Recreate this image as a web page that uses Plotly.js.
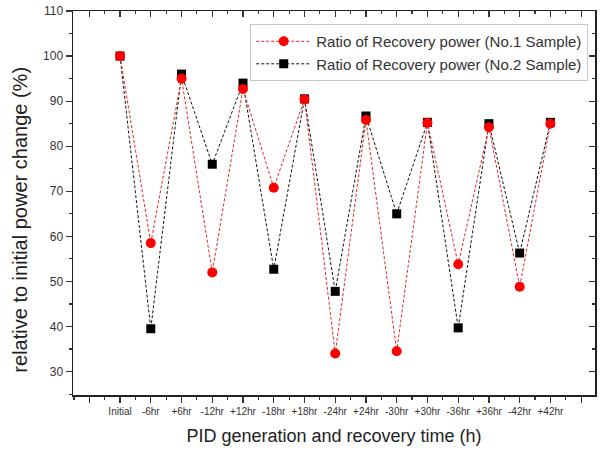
<!DOCTYPE html>
<html>
<head>
<meta charset="utf-8">
<script src="https://cdn.plot.ly/plotly-3.0.1.min.js"></script>
<style>
  html, body { margin: 0; padding: 0; background: #fff; }
  #chart { width: 604px; height: 455px; }
</style>
</head>
<body>
<div id="chart"></div>
<script>
// PID generation / recovery steps
const stages = ['Initial', '-6hr', '+6hr', '-12hr', '+12hr', '-18hr', '+18hr',
                '-24hr', '+24hr', '-30hr', '+30hr', '-36hr', '+36hr', '-42hr', '+42hr'];

// Ratio of recovered power relative to initial (%)
const sample1 = [100, 58.5, 95.0, 52.0, 92.7, 70.8, 90.4, 34.0, 85.8, 34.5, 85.2, 53.8, 84.2, 48.8, 85.0];
const sample2 = [100, 39.5, 96.0, 76.0, 94.0, 52.7, 90.5, 47.8, 86.7, 65.0, 85.3, 39.7, 85.0, 56.3, 85.3];

const xTitle = 'PID generation and recovery time (h)';
const yTitle = 'relative to initial power change (%)';

const xIdx = stages.map((_, i) => i);
const tickVals = [-1].concat(xIdx, [stages.length]);
const tickText = [''].concat(stages, ['']);

const FONT = 'Liberation Sans, Arial, sans-serif';

const traces = [
  {
    x: xIdx, y: sample2, name: 'Ratio of Recovery power (No.2 Sample)',
    type: 'scatter', mode: 'lines+markers', legendrank: 2,
    line: { color: '#111', width: 1, dash: '3px,2px' },
    marker: { symbol: 'square', size: 9, color: '#000' }
  },
  {
    x: xIdx, y: sample1, name: 'Ratio of Recovery power (No.1 Sample)',
    type: 'scatter', mode: 'lines+markers', legendrank: 1,
    line: { color: '#e8231f', width: 1, dash: '3px,2px' },
    marker: { symbol: 'circle', size: 10, color: '#ff0000' }
  },
  // empty helper trace carrying the inward-facing top / right tick frame
  { x: [0], y: [null], xaxis: 'x2', yaxis: 'y2', showlegend: false, hoverinfo: 'skip', mode: 'markers' }
];

const xRange = [-1.53, 15.45];
const yRange = [24.8, 110];

const layout = {
  width: 604, height: 455,
  margin: { l: 73, r: 9, t: 11, b: 60 },
  paper_bgcolor: '#fff', plot_bgcolor: '#fff',
  font: { family: FONT, color: '#333' },
  showlegend: true,
  legend: {
    x: 0.987, y: 0.966, xanchor: 'right', yanchor: 'top',
    bgcolor: '#fff', bordercolor: '#c8c8c8', borderwidth: 1,
    font: { family: FONT, size: 15, color: '#333' },
    itemwidth: 55, tracegroupgap: 0
  },
  xaxis: {
    range: xRange, tickmode: 'array', tickvals: tickVals, ticktext: tickText,
    showgrid: false, zeroline: false,
    showline: true, linecolor: '#222', linewidth: 1.5, mirror: true,
    ticks: 'outside', ticklen: 6, tickwidth: 1.2, tickcolor: '#333',
    minor: { tickmode: 'linear', tick0: 0.5, dtick: 1, ticks: 'outside', ticklen: 3, tickcolor: '#333', showgrid: false },
    tickfont: { family: FONT, size: 10, color: '#333' },
    title: { text: xTitle, font: { family: FONT, size: 18, color: '#222' }, standoff: 14 }
  },
  yaxis: {
    range: yRange, tickmode: 'linear', tick0: 30, dtick: 10,
    showgrid: false, zeroline: false,
    showline: true, linecolor: '#222', linewidth: 1.5, mirror: true,
    ticks: 'outside', ticklen: 6, tickwidth: 1.2, tickcolor: '#333',
    minor: { tickmode: 'linear', tick0: 25, dtick: 10, ticks: 'outside', ticklen: 3, tickcolor: '#333', showgrid: false },
    tickfont: { family: FONT, size: 12, color: '#333' }
  },
  xaxis2: {
    overlaying: 'x', side: 'top', range: xRange, tickmode: 'array', tickvals: tickVals,
    showticklabels: false, showgrid: false, zeroline: false, showline: false,
    ticks: 'inside', ticklen: 6, tickwidth: 1.2, tickcolor: '#333',
    minor: { tickmode: 'linear', tick0: 0.5, dtick: 1, ticks: 'inside', ticklen: 3, tickcolor: '#333', showgrid: false }
  },
  yaxis2: {
    overlaying: 'y', side: 'right', range: yRange, tickmode: 'linear', tick0: 30, dtick: 10,
    showticklabels: false, showgrid: false, zeroline: false, showline: false,
    ticks: 'inside', ticklen: 6, tickwidth: 1.2, tickcolor: '#333',
    minor: { tickmode: 'linear', tick0: 25, dtick: 10, ticks: 'inside', ticklen: 3, tickcolor: '#333', showgrid: false }
  },
  // y-axis title, set slightly below the axis midpoint
  annotations: [{
    text: yTitle, textangle: -90, showarrow: false,
    xref: 'paper', yref: 'paper', x: -0.102, y: 0.456,
    xanchor: 'center', yanchor: 'middle',
    font: { family: FONT, size: 20, color: '#222' }
  }]
};

Plotly.newPlot('chart', traces, layout, { displayModeBar: false, staticPlot: true });
</script>
</body>
</html>
